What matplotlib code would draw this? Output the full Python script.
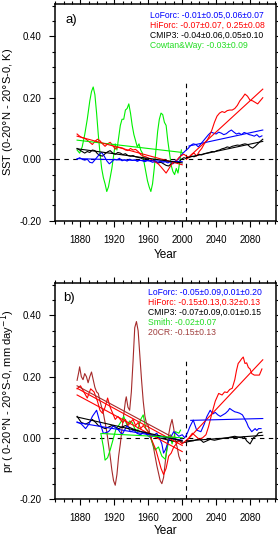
import matplotlib
matplotlib.use('Agg')
import matplotlib.pyplot as plt
from matplotlib.ticker import MultipleLocator, FormatStrFormatter

plt.rcParams['font.family'] = ['Liberation Sans', 'DejaVu Sans']

# colours
c_lo = '#0000ff'
c_hi = '#ff0000'
c_cm = '#000000'
c_obs = '#00f000'
c_20cr = '#a52a2a'

# ---------------- panel a) SST ----------------
a_lo_yr = [1876, 1879, 1882, 1885, 1888, 1891, 1894, 1897, 1900, 1903, 1905, 1908, 1911, 1914, 1917,
           1920, 1923, 1926, 1929, 1932, 1935, 1938, 1941, 1944, 1947, 1950, 1953, 1956, 1959, 1962,
           1965, 1968, 1971, 1974, 1977, 1980, 1983, 1986, 1989, 1992, 1995, 1998, 2001, 2004, 2007,
           2010, 2013, 2016, 2019, 2022, 2025, 2028, 2031, 2034, 2037, 2040, 2043, 2046, 2049, 2052,
           2055, 2058, 2061, 2064, 2067, 2070, 2073, 2076, 2079, 2082, 2085, 2088, 2091, 2094]
a_lo = [0.0, 0.005, 0.0, -0.003, 0.0, -0.01, -0.012, -0.002, 0.008, 0.018, 0.022, 0.01, -0.005, -0.015, -0.008,
        0.0, -0.002, 0.003, -0.005, -0.002, -0.006, 0.0, -0.004, -0.002, -0.007, -0.003, -0.005, -0.008, -0.004, -0.006,
        -0.01, -0.008, -0.012, -0.006, -0.01, -0.008, -0.012, -0.008, -0.015, -0.005, -0.002, 0.01, 0.02, 0.028, 0.035,
        0.045, 0.05, 0.048, 0.04, 0.05, 0.06, 0.07, 0.08, 0.088, 0.085, 0.082, 0.088, 0.085, 0.08, 0.083,
        0.09, 0.095, 0.088, 0.082, 0.085, 0.08, 0.087, 0.084, 0.08, 0.078, 0.075, 0.08, 0.072, 0.076]

a_hi_yr = [1876, 1879, 1882, 1885, 1888, 1891, 1894, 1897, 1900, 1903, 1906, 1909, 1912, 1915, 1918,
           1921, 1924, 1927, 1930, 1933, 1936, 1939, 1942, 1945, 1948, 1951, 1954, 1957, 1960, 1963,
           1966, 1969, 1972, 1975, 1978, 1981, 1984, 1987, 1990, 1993, 1996, 1999, 2002, 2005, 2008,
           2011, 2014, 2017, 2020, 2023, 2026, 2029, 2032, 2035, 2038, 2041, 2044, 2047, 2050, 2053,
           2056, 2059, 2062, 2065, 2068, 2071, 2074, 2077, 2080, 2083, 2086, 2089, 2092, 2095]
a_hi = [0.082, 0.075, 0.07, 0.068, 0.062, 0.055, 0.048, 0.058, 0.065, 0.06, 0.05, 0.042, 0.05, 0.055, 0.045,
        0.033, 0.04, 0.038, 0.036, 0.03, 0.028, 0.035, 0.03, 0.032, 0.025, 0.015, 0.01, 0.008, 0.004, 0.0,
        -0.005, -0.01, -0.016, -0.025, -0.035, -0.045, -0.032, -0.018, -0.01, -0.005, 0.005, 0.012, 0.016, 0.01, 0.005,
        0.015, 0.02, 0.01, 0.025, 0.035, 0.05, 0.06, 0.075, 0.095, 0.12, 0.14, 0.15, 0.155, 0.152, 0.158,
        0.16, 0.16, 0.165, 0.175, 0.19, 0.2, 0.212, 0.205, 0.192, 0.19, 0.185, 0.18, 0.19, 0.2]

a_cm_yr = a_hi_yr
a_cm = [0.035, 0.03, 0.025, 0.02, 0.025, 0.022, 0.03, 0.028, 0.018, 0.012, 0.01, 0.018, 0.024, 0.028, 0.02,
        0.016, 0.022, 0.02, 0.015, 0.018, 0.012, 0.01, 0.012, 0.008, 0.006, 0.004, 0.0, 0.002, -0.002, -0.005,
        -0.003, -0.008, -0.012, -0.01, -0.015, -0.02, -0.022, -0.015, -0.012, -0.008, -0.01, 0.0, 0.005, 0.002, 0.006,
        0.01, 0.008, 0.012, 0.016, 0.014, 0.018, 0.02, 0.022, 0.025, 0.024, 0.028, 0.03, 0.034, 0.036, 0.04,
        0.038, 0.042, 0.044, 0.046, 0.045, 0.048, 0.05, 0.048, 0.04, 0.036, 0.042, 0.05, 0.058, 0.065]

a_cw_yr = [1876, 1879, 1882, 1885, 1888, 1891, 1893, 1895, 1897, 1899, 1901, 1903, 1905, 1907, 1909,
           1911, 1913, 1915, 1917, 1919, 1921, 1923, 1925, 1927, 1929, 1931, 1933, 1935, 1937, 1939,
           1941, 1943, 1945, 1947, 1949, 1951, 1953, 1955, 1957, 1959, 1961, 1963, 1965, 1967, 1969,
           1971, 1973, 1975, 1977, 1979, 1981, 1983, 1985, 1987, 1989, 1991, 1993, 1995, 1997, 1999]
a_cw = [0.03, 0.02, 0.04, 0.08, 0.13, 0.19, 0.22, 0.235, 0.21, 0.15, 0.08, 0.02, -0.03, -0.06, -0.08,
        -0.105, -0.09, -0.06, -0.03, 0.01, 0.05, 0.03, 0.07, 0.11, 0.13, 0.13, 0.16, 0.165, 0.18, 0.15,
        0.11, 0.08, 0.06, 0.04, 0.05, 0.03, 0.02, -0.01, -0.04, -0.07, -0.09, -0.105, -0.08, -0.03, 0.03,
        0.09, 0.13, 0.15, 0.145, 0.12, 0.11, 0.06, 0.02, -0.02, -0.04, -0.05, -0.03, -0.045, -0.01, 0.03]

# trend lines: colour, [start year, end year], [start value, end value]
a_trends = [
    (c_obs, [1876, 2000], [0.062, 0.022]),
    (c_lo, [1876, 2000], [0.002, -0.008]),
    (c_lo, [2008, 2095], [0.043, 0.095]),
    (c_hi, [1876, 2000], [0.075, -0.018]),
    (c_hi, [2005, 2095], [0.0, 0.228]),
    (c_cm, [1876, 2000], [0.034, -0.012]),
    (c_cm, [2005, 2095], [0.005, 0.058]),
]

a_legend = ['LoForc: -0.01\u00b10.05,0.06\u00b10.07',
            'HiForc: -0.07\u00b10.07, 0.25\u00b10.08',
            'CMIP3: -0.04\u00b10.06,0.05\u00b10.10',
            'Cowtan&Way: -0.03\u00b10.09']
a_legend_col = [c_lo, c_hi, c_cm, '#22dd22']

# ---------------- panel b) precipitation ----------------
b_20cr_yr = [1876, 1878, 1879, 1881, 1883, 1885, 1887, 1889, 1891, 1893, 1895, 1897, 1899, 1901, 1903,
             1905, 1907, 1909, 1911, 1913, 1915, 1917, 1919, 1921, 1923, 1925, 1927, 1929, 1931, 1933,
             1934, 1936, 1938, 1940, 1942, 1944, 1946, 1948, 1950, 1952, 1954, 1956, 1958, 1960, 1962,
             1964, 1966, 1968, 1970, 1972, 1974, 1976, 1978, 1980, 1982, 1984, 1986, 1988, 1990, 1992,
             1994, 1996, 1998]
b_20cr = [0.188, 0.215, 0.232, 0.2, 0.19, 0.21, 0.2, 0.18, 0.2, 0.215, 0.19, 0.165, 0.15, 0.145, 0.12,
          0.1, 0.08, 0.05, 0.02, -0.02, -0.06, -0.105, -0.14, -0.155, -0.12, -0.06, -0.02, 0.03, 0.075, 0.12,
          0.134, 0.1, 0.09, 0.15, 0.25, 0.36, 0.38, 0.35, 0.27, 0.19, 0.12, 0.07, 0.045, 0.04, 0.01,
          -0.01, -0.03, -0.06, -0.09, -0.115, -0.14, -0.15, -0.13, -0.08, -0.03, 0.01, 0.04, 0.06, 0.03, -0.01,
          -0.03, -0.06, -0.075]

b_hi_yr = [1876, 1880, 1884, 1888, 1892, 1896, 1900, 1903, 1906, 1909, 1912, 1915, 1918, 1921, 1924,
           1927, 1930, 1933, 1936, 1939, 1942, 1945, 1948, 1951, 1954, 1957, 1960, 1963, 1966, 1969,
           1972, 1975, 1978, 1981, 1984, 1987, 1990, 1993, 1996, 2000, 2004, 2008, 2012, 2016, 2020,
           2024, 2028, 2031, 2035, 2039, 2043, 2047, 2050, 2053, 2056, 2059, 2062, 2064, 2066, 2068,
           2070, 2072, 2074, 2076, 2078, 2080, 2082, 2085, 2088, 2091, 2094]
b_hi = [0.16, 0.17, 0.15, 0.13, 0.16, 0.15, 0.12, 0.09, 0.08, 0.1, 0.13, 0.1, 0.08, 0.06, 0.07,
        0.06, 0.05, 0.06, 0.04, 0.05, 0.06, 0.04, 0.05, 0.03, 0.04, 0.03, 0.02, 0.0, -0.02, -0.04,
        -0.07, -0.1, -0.12, -0.1, -0.06, -0.05, -0.03, -0.02, -0.01, -0.02, -0.01, 0.0, 0.015, 0.005, -0.005,
        0.0, 0.01, 0.036, 0.08, 0.12, 0.145, 0.14, 0.15, 0.148, 0.158, 0.162, 0.19, 0.22, 0.243, 0.25,
        0.258, 0.264, 0.243, 0.245, 0.23, 0.225, 0.21, 0.205, 0.205, 0.205, 0.225]

b_lo_yr = [1876, 1881, 1886, 1890, 1894, 1899, 1903, 1907, 1913, 1919, 1925, 1929, 1935, 1939, 1943,
           1947, 1951, 1955, 1959, 1963, 1967, 1970, 1973, 1976, 1978, 1980, 1984, 1990, 1996, 2000,
           2003, 2006, 2009, 2013, 2017, 2022, 2026, 2029, 2033, 2036, 2039, 2042, 2045, 2048, 2051,
           2054, 2056, 2059, 2062, 2065, 2068, 2071, 2074, 2076, 2078, 2080, 2082, 2084, 2086, 2088,
           2090, 2093]
b_lo = [0.052, 0.045, 0.03, 0.045, 0.07, 0.09, 0.05, 0.014, 0.02, 0.04, 0.025, 0.01, 0.04, 0.02, 0.025,
        0.014, 0.01, 0.02, 0.008, 0.0, 0.01, 0.015, 0.0, -0.02, -0.05, -0.04, -0.01, 0.02, 0.005, 0.01,
        0.0, 0.015, 0.036, 0.058, 0.025, 0.02, 0.045, 0.069, 0.09, 0.078, 0.083, 0.075, 0.07, 0.075, 0.08,
        0.088, 0.096, 0.09, 0.085, 0.083, 0.08, 0.075, 0.06, 0.05, 0.036, 0.028, 0.02, 0.025, 0.03, 0.024,
        0.03, 0.03]

b_cm_yr = [1876, 1881, 1886, 1890, 1894, 1898, 1901, 1905, 1909, 1913, 1917, 1921, 1925, 1929, 1933,
           1937, 1941, 1945, 1949, 1953, 1957, 1961, 1964, 1968, 1972, 1976, 1980, 1984, 1988, 1992,
           1996, 2001, 2003, 2008, 2013, 2017, 2021, 2025, 2029, 2033, 2038, 2043, 2048, 2053, 2058,
           2062, 2066, 2070, 2073, 2076, 2078, 2080, 2082, 2084, 2087, 2090, 2094]
b_cm = [0.07, 0.05, 0.045, 0.05, 0.06, 0.05, 0.04, 0.035, 0.03, 0.035, 0.04, 0.035, 0.03, 0.035, 0.04,
        0.035, 0.03, 0.026, 0.022, 0.018, 0.015, 0.012, 0.01, 0.005, 0.0, -0.002, -0.005, -0.008, -0.01, -0.012,
        -0.01, -0.015, -0.015, -0.012, -0.01, -0.006, -0.005, -0.015, -0.01, -0.005, -0.008, -0.005, -0.002, 0.0, 0.003,
        0.005, 0.002, 0.0, 0.004, -0.01, -0.015, -0.02, -0.01, 0.0, 0.005, 0.016, 0.018]

b_sm_yr = [1904, 1905, 1907, 1909, 1912, 1915, 1919, 1922, 1925, 1929, 1931, 1935, 1938, 1941, 1944,
           1947, 1951, 1954, 1957, 1960, 1964, 1968, 1972, 1976, 1980, 1984, 1986, 1988, 1992, 1996,
           1998]
b_sm = [0.014, 0.0, -0.03, -0.073, -0.065, -0.04, 0.0, 0.03, 0.04, 0.058, 0.07, 0.04, 0.055, 0.05, 0.03,
        0.02, 0.06, 0.075, 0.03, 0.02, -0.01, -0.04, -0.03, -0.06, -0.07, -0.01, 0.01, -0.02, 0.02, 0.015,
        0.025]

b_trends = [
    (c_20cr, [1876, 2000], [0.17, -0.015]),
    (c_hi, [1876, 2000], [0.162, -0.025]),
    (c_hi, [1876, 2000], [0.14, -0.045]),
    (c_hi, [2005, 2095], [-0.01, 0.255]),
    (c_lo, [1876, 2000], [0.05, -0.008]),
    (c_lo, [2010, 2095], [0.057, 0.063]),
    (c_cm, [1876, 2000], [0.068, -0.01]),
    (c_cm, [2005, 2095], [-0.01, 0.008]),
    (c_obs, [1905, 2000], [0.014, 0.0]),
]

b_legend = ['LoForc: -0.05\u00b10.09,0.01\u00b10.20',
            'HiForc: -0.15\u00b10.13,0.32\u00b10.13',
            'CMIP3: -0.07\u00b10.09,0.01\u00b10.15',
            'Smith: -0.02\u00b10.07',
            '20CR: -0.15\u00b10.13']
b_legend_col = [c_lo, c_hi, c_cm, '#22dd22', '#a0403f']

lw = 0.8


def style(ax):
    ax.set_xlim(1850, 2111)
    ax.set_ylim(-0.2, 0.505)
    ax.xaxis.set_minor_locator(MultipleLocator(10))
    ax.yaxis.set_major_locator(MultipleLocator(0.2))
    ax.yaxis.set_minor_locator(MultipleLocator(0.05))
    ax.set_xticks([1880, 1920, 1960, 2000, 2040, 2080])
    ax.yaxis.set_major_formatter(FormatStrFormatter('%.2f'))
    ax.tick_params(which='both', direction='out', top=True, right=True, width=0.8)
    ax.tick_params(which='major', length=4, labelsize=7)
    ax.tick_params(which='minor', length=2.5)
    ax.tick_params(axis='x', which='major', pad=6)
    ax.tick_params(axis='y', which='major', pad=5.5)
    for s in ax.spines.values():
        s.set_linewidth(1.1)
    ax.axhline(0, color='k', lw=0.8, ls=(0, (4, 4)))
    ax.plot([2005, 2005], [-0.2, 0.255], color='k', lw=0.8, ls=(0, (4, 4)))


fig = plt.figure(figsize=(2.78, 5.37), dpi=100)
ax_a = fig.add_axes([0.198, 0.589, 0.796, 0.4036])
ax_b = fig.add_axes([0.198, 0.0708, 0.796, 0.4016])

# panel a
style(ax_a)
ax_a.plot(a_cw_yr, a_cw, color=c_obs, lw=lw)
ax_a.plot(a_cm_yr, a_cm, color=c_cm, lw=lw)
ax_a.plot(a_lo_yr, a_lo, color=c_lo, lw=lw)
ax_a.plot(a_hi_yr, a_hi, color=c_hi, lw=lw)
for col, xs, ys in a_trends:
    ax_a.plot(xs, ys, color=col, lw=lw)
for i, (t, col) in enumerate(zip(a_legend, a_legend_col)):
    ax_a.text(0.428, 0.949 - i * 0.0475, t, color=col, fontsize=6.2,
              ha='left', va='center', transform=ax_a.transAxes)
ax_a.text(0.045, 0.926, 'a)', fontsize=9.5, ha='left', va='center', transform=ax_a.transAxes)
ax_a.text(0.5, -0.158, 'Year', fontsize=8.5, ha='center', va='center', transform=ax_a.transAxes)
ax_a.text(-0.212, 0.5, 'SST (0-20$\\degree$N - 20$\\degree$S-0, K)', fontsize=8, rotation=90,
          ha='center', va='center', transform=ax_a.transAxes)

# panel b
style(ax_b)
ax_b.plot(b_20cr_yr, b_20cr, color=c_20cr, lw=lw)
ax_b.plot(b_sm_yr, b_sm, color=c_obs, lw=lw)
ax_b.plot(b_cm_yr, b_cm, color=c_cm, lw=lw)
ax_b.plot(b_lo_yr, b_lo, color=c_lo, lw=lw)
ax_b.plot(b_hi_yr, b_hi, color=c_hi, lw=lw)
for col, xs, ys in b_trends:
    ax_b.plot(xs, ys, color=col, lw=lw)
for i, (t, col) in enumerate(zip(b_legend, b_legend_col)):
    ax_b.text(0.419, 0.960 - i * 0.0475, t, color=col, fontsize=6.2,
              ha='left', va='center', transform=ax_b.transAxes)
ax_b.text(0.036, 0.932, 'b)', fontsize=9.5, ha='left', va='center', transform=ax_b.transAxes)
ax_b.text(0.5, -0.148, 'Year', fontsize=8.5, ha='center', va='center', transform=ax_b.transAxes)
ax_b.text(-0.212, 0.5, 'pr ( 0-20$\\degree$N - 20$\\degree$S-0, mm day$^{-1}$)', fontsize=8, rotation=90,
          ha='center', va='center', transform=ax_b.transAxes)

fig.savefig('out.png', dpi=100)
